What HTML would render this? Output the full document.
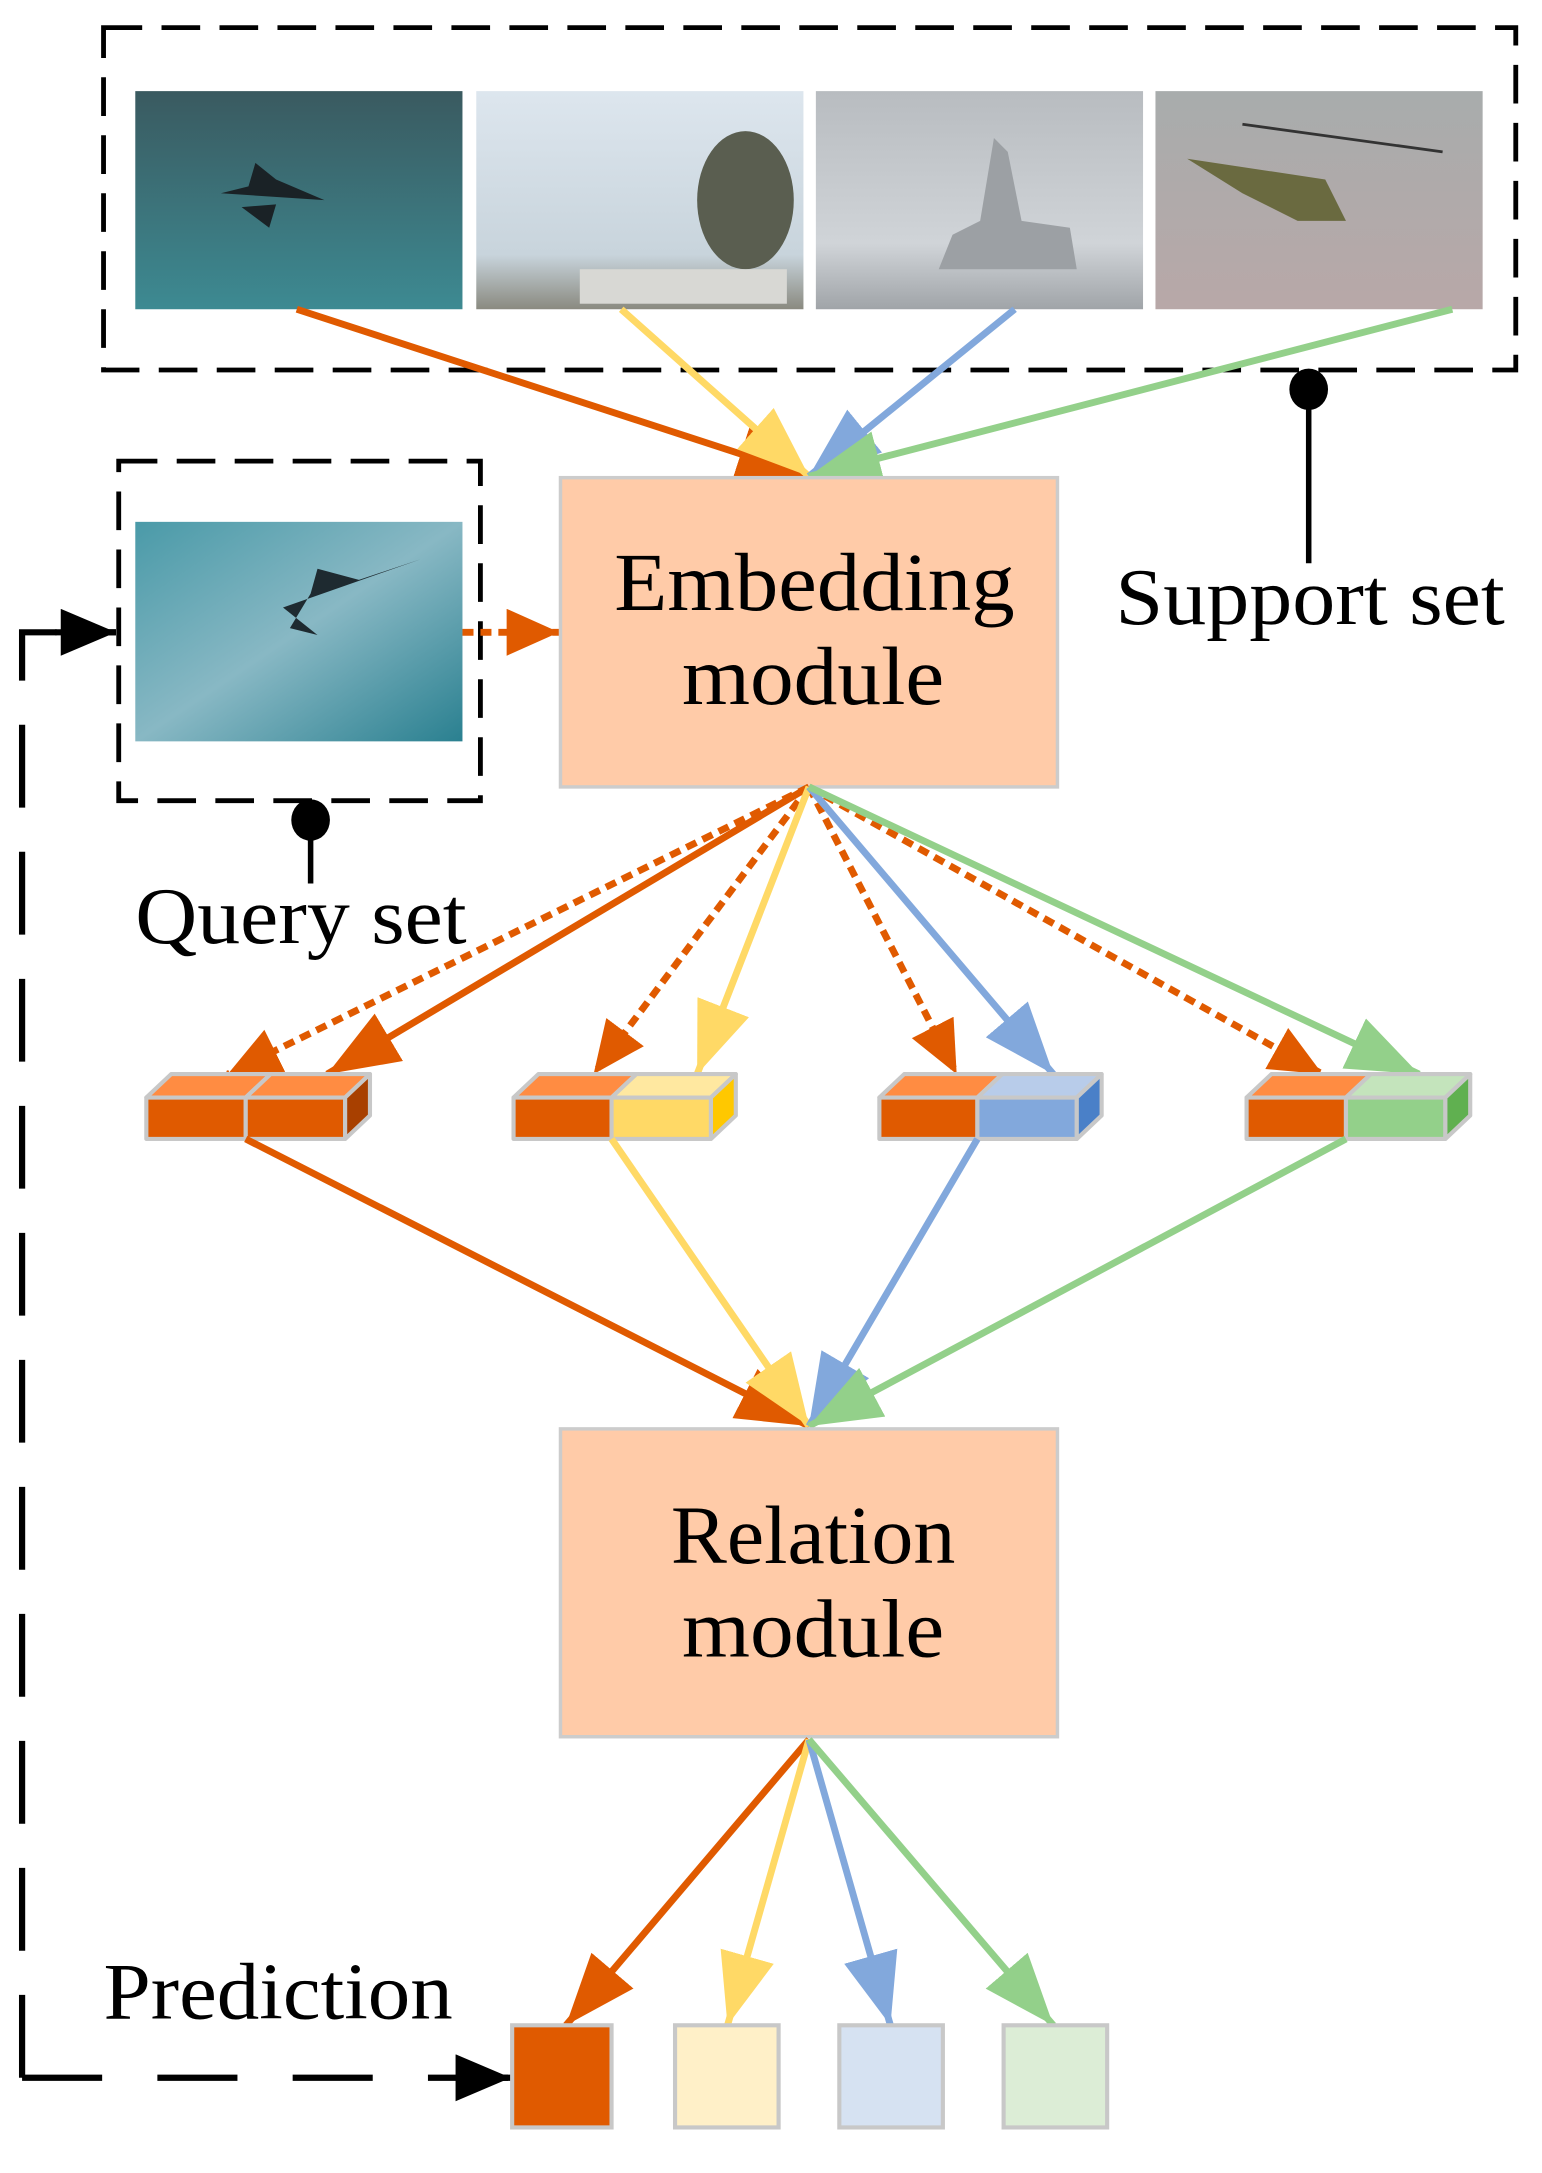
<!DOCTYPE html>
<html><head><meta charset="utf-8"><style>html,body{margin:0;padding:0;background:#fff}svg{display:block}</style></head>
<body>
<svg width="1542" height="2173" viewBox="0 0 1117 1574" preserveAspectRatio="none" xmlns="http://www.w3.org/2000/svg" font-family="Liberation Serif, serif">
<defs>
<marker id="mo" markerUnits="userSpaceOnUse" markerWidth="60" markerHeight="50" refX="52" refY="20" orient="auto"><path d="M0,0 L52,20 L0,40z" fill="#E05A00"/></marker>
<marker id="my" markerUnits="userSpaceOnUse" markerWidth="60" markerHeight="50" refX="52" refY="20" orient="auto"><path d="M0,0 L52,20 L0,40z" fill="#FFD966"/></marker>
<marker id="mb" markerUnits="userSpaceOnUse" markerWidth="60" markerHeight="50" refX="52" refY="20" orient="auto"><path d="M0,0 L52,20 L0,40z" fill="#82A8DC"/></marker>
<marker id="mg" markerUnits="userSpaceOnUse" markerWidth="60" markerHeight="50" refX="52" refY="20" orient="auto"><path d="M0,0 L52,20 L0,40z" fill="#93D08A"/></marker>
<marker id="mos" markerUnits="userSpaceOnUse" markerWidth="50" markerHeight="40" refX="38" refY="17" orient="auto"><path d="M0,0 L38,17 L0,34z" fill="#E05A00"/></marker>
<marker id="mk" markerUnits="userSpaceOnUse" markerWidth="50" markerHeight="40" refX="40" refY="17" orient="auto"><path d="M0,0 L40,17 L0,34z" fill="#000"/></marker>
<linearGradient id="g1" x1="0" y1="0" x2="0" y2="1"><stop offset="0" stop-color="#3a5a60"/><stop offset="1" stop-color="#3d8a92"/></linearGradient>
<linearGradient id="g2" x1="0" y1="0" x2="0" y2="1"><stop offset="0" stop-color="#dde6ee"/><stop offset="0.75" stop-color="#c8d4dc"/><stop offset="1" stop-color="#8a8a80"/></linearGradient>
<linearGradient id="g3" x1="0" y1="0" x2="0" y2="1"><stop offset="0" stop-color="#b8bcc0"/><stop offset="0.7" stop-color="#d0d4d8"/><stop offset="1" stop-color="#a0a4a8"/></linearGradient>
<linearGradient id="g4" x1="0" y1="0" x2="0" y2="1"><stop offset="0" stop-color="#a8acac"/><stop offset="1" stop-color="#b8a8a8"/></linearGradient>
<linearGradient id="g5" x1="0" y1="0" x2="1" y2="1"><stop offset="0" stop-color="#4a9aa8"/><stop offset="0.5" stop-color="#88b8c4"/><stop offset="1" stop-color="#2a8090"/></linearGradient>
</defs>

<rect x="75" y="20" width="1023" height="248" fill="none" stroke="#000" stroke-width="3.5" stroke-dasharray="28,14"/>
<rect x="98" y="66" width="237" height="158" fill="url(#g1)"/>
<path d="M160,140 L235,145 L200,130 L185,118 L180,135z M175,150 L195,165 L200,148z" fill="#1a2226"/>
<rect x="345" y="66" width="237" height="158" fill="url(#g2)"/>
<ellipse cx="540" cy="145" rx="35" ry="50" fill="#5a5e50"/>
<rect x="420" y="195" width="150" height="25" fill="#d8d8d4"/>
<rect x="591" y="66" width="237" height="158" fill="url(#g3)"/>
<path d="M680,195 L780,195 L775,165 L740,160 L730,110 L720,100 L710,160 L690,170z" fill="#9ca0a4"/>
<rect x="837" y="66" width="237" height="158" fill="url(#g4)"/>
<path d="M860,115 L960,130 L975,160 L940,160 L900,140z" fill="#6a6a40"/>
<line x1="900" y1="90" x2="1045" y2="110" stroke="#333" stroke-width="2"/>

<line x1="948" y1="282" x2="948" y2="408" stroke="#000" stroke-width="4"/>
<ellipse cx="948" cy="282" rx="14" ry="15" fill="#000"/>
<text x="808" y="452" font-size="58" textLength="282" lengthAdjust="spacingAndGlyphs">Support set</text>

<rect x="86" y="334" width="262" height="246" fill="none" stroke="#000" stroke-width="3.5" stroke-dasharray="28,14"/>
<rect x="98" y="378" width="237" height="159" fill="url(#g5)"/>
<path d="M205,440 L305,405 L260,420 L230,412 L225,430 L210,455 L230,460z" fill="#1e2a30"/>
<line x1="225" y1="580" x2="225" y2="640" stroke="#000" stroke-width="4"/>
<ellipse cx="225" cy="594" rx="14" ry="15" fill="#000"/>
<text x="98" y="683" font-size="58" textLength="240" lengthAdjust="spacingAndGlyphs">Query set</text>
<line x1="335" y1="458" x2="405" y2="458" stroke="#E05A00" stroke-width="5" stroke-dasharray="8,5" marker-end="url(#mos)"/>

<path d="M16,1505 L16,458 L84,458" fill="none" stroke="#000" stroke-width="4.5" stroke-dasharray="60,32"/>
<line x1="40" y1="458" x2="84" y2="458" stroke="#000" stroke-width="4.5" marker-end="url(#mk)"/>
<path d="M16,1505 L370,1505" fill="none" stroke="#000" stroke-width="4.5" stroke-dasharray="58,40"/>
<line x1="330" y1="1505" x2="370" y2="1505" stroke="#000" stroke-width="4.5" marker-end="url(#mk)"/>
<text x="75" y="1462" font-size="58" textLength="253" lengthAdjust="spacingAndGlyphs">Prediction</text>

<g stroke-width="5" fill="none">
<line x1="215" y1="224" x2="586" y2="345" stroke="#E05A00" marker-end="url(#mo)"/>
<line x1="450" y1="224" x2="586" y2="345" stroke="#FFD966" marker-end="url(#my)"/>
<line x1="735" y1="224" x2="586" y2="345" stroke="#82A8DC" marker-end="url(#mb)"/>
<line x1="1052" y1="224" x2="586" y2="345" stroke="#93D08A" marker-end="url(#mg)"/>
</g>

<rect x="406" y="346" width="360" height="224" fill="#FFCBA8" stroke="#ccc" stroke-width="2.5"/>
<text x="445" y="442" font-size="60" textLength="290" lengthAdjust="spacingAndGlyphs">Embedding</text>
<text x="494" y="510" font-size="60" textLength="190" lengthAdjust="spacingAndGlyphs">module</text>

<g stroke-width="5" fill="none">
<line x1="586" y1="570" x2="165" y2="778" stroke="#E05A00" stroke-dasharray="8,5" marker-end="url(#mos)"/>
<line x1="586" y1="570" x2="430" y2="778" stroke="#E05A00" stroke-dasharray="8,5" marker-end="url(#mos)"/>
<line x1="586" y1="570" x2="693" y2="778" stroke="#E05A00" stroke-dasharray="8,5" marker-end="url(#mos)"/>
<line x1="586" y1="570" x2="958" y2="778" stroke="#E05A00" stroke-dasharray="8,5" marker-end="url(#mos)"/>
<line x1="586" y1="570" x2="237" y2="778" stroke="#E05A00" marker-end="url(#mo)"/>
<line x1="586" y1="570" x2="505" y2="778" stroke="#FFD966" marker-end="url(#my)"/>
<line x1="586" y1="570" x2="763" y2="778" stroke="#82A8DC" marker-end="url(#mb)"/>
<line x1="586" y1="570" x2="1028" y2="778" stroke="#93D08A" marker-end="url(#mg)"/>
</g>

<g stroke="#c8c8c8" stroke-width="3" stroke-linejoin="round">
<path d="M106,795 L124,778 L196,778 L178,795z" fill="#FF8C42"/>
<path d="M178,795 L196,778 L268,778 L250,795z" fill="#FF8C42"/>
<rect x="106" y="795" width="72" height="30" fill="#E05A00"/>
<rect x="178" y="795" width="72" height="30" fill="#E05A00"/>
<path d="M250,795 L268,778 L268,808 L250,825z" fill="#A84000"/>
<path d="M372,795 L390,778 L461,778 L443,795z" fill="#FF8C42"/>
<path d="M443,795 L461,778 L533,778 L515,795z" fill="#FFE8A0"/>
<rect x="372" y="795" width="71" height="30" fill="#E05A00"/>
<rect x="443" y="795" width="72" height="30" fill="#FFD966"/>
<path d="M515,795 L533,778 L533,808 L515,825z" fill="#FFC800"/>
<path d="M637,795 L655,778 L726,778 L708,795z" fill="#FF8C42"/>
<path d="M708,795 L726,778 L798,778 L780,795z" fill="#B8CCEA"/>
<rect x="637" y="795" width="71" height="30" fill="#E05A00"/>
<rect x="708" y="795" width="72" height="30" fill="#82A8DC"/>
<path d="M780,795 L798,778 L798,808 L780,825z" fill="#4A80C8"/>
<path d="M903,795 L921,778 L993,778 L975,795z" fill="#FF8C42"/>
<path d="M975,795 L993,778 L1065,778 L1047,795z" fill="#C4E4BC"/>
<rect x="903" y="795" width="72" height="30" fill="#E05A00"/>
<rect x="975" y="795" width="72" height="30" fill="#93D08A"/>
<path d="M1047,795 L1065,778 L1065,808 L1047,825z" fill="#60B050"/>
</g>

<g stroke-width="5" fill="none">
<line x1="178" y1="825" x2="586" y2="1033" stroke="#E05A00" marker-end="url(#mo)"/>
<line x1="443" y1="825" x2="586" y2="1033" stroke="#FFD966" marker-end="url(#my)"/>
<line x1="708" y1="825" x2="586" y2="1033" stroke="#82A8DC" marker-end="url(#mb)"/>
<line x1="975" y1="825" x2="586" y2="1033" stroke="#93D08A" marker-end="url(#mg)"/>
</g>

<rect x="406" y="1035" width="360" height="223" fill="#FFCBA8" stroke="#ccc" stroke-width="2.5"/>
<text x="486" y="1132" font-size="60" textLength="206" lengthAdjust="spacingAndGlyphs">Relation</text>
<text x="494" y="1200" font-size="60" textLength="190" lengthAdjust="spacingAndGlyphs">module</text>

<g stroke-width="5" fill="none">
<line x1="586" y1="1260" x2="410" y2="1467" stroke="#E05A00" marker-end="url(#mo)"/>
<line x1="586" y1="1260" x2="527" y2="1467" stroke="#FFD966" marker-end="url(#my)"/>
<line x1="586" y1="1260" x2="645" y2="1467" stroke="#82A8DC" marker-end="url(#mb)"/>
<line x1="586" y1="1260" x2="763" y2="1467" stroke="#93D08A" marker-end="url(#mg)"/>
</g>

<g stroke="#c8c8c8" stroke-width="3">
<rect x="371" y="1467" width="72" height="74" fill="#E05A00"/>
<rect x="489" y="1467" width="75" height="74" fill="#FFF0C8"/>
<rect x="608" y="1467" width="75" height="74" fill="#D6E2F2"/>
<rect x="727" y="1467" width="75" height="74" fill="#DCEDD6"/>
</g>
</svg>
</body></html>
